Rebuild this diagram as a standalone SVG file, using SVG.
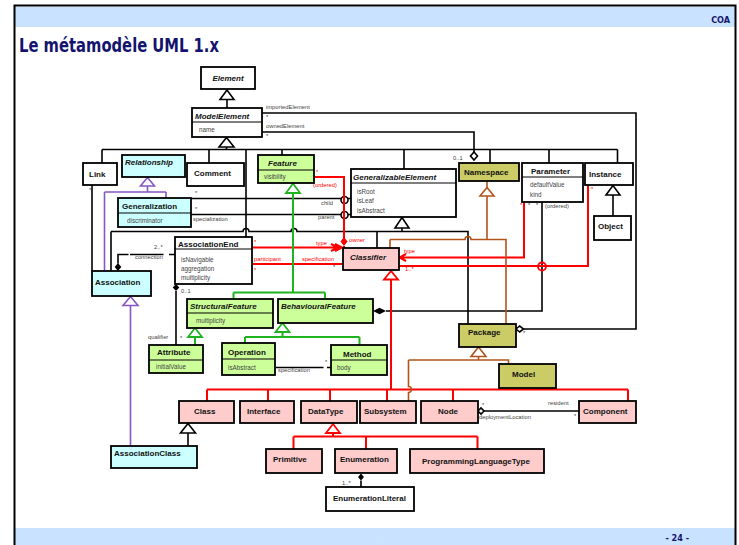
<svg xmlns="http://www.w3.org/2000/svg" width="739" height="545" viewBox="0 0 739 545">
<style>
  .bx{stroke:#000;stroke-width:1.8}
  .w{fill:#fff}.cy{fill:#ccffff}.gr{fill:#ccff99}.pk{fill:#ffcccc}.ol{fill:#cccc66}
  .dv{stroke:#000;stroke-width:1.2}
  text{font-family:"Liberation Sans",Arial,sans-serif}
  .n{font-size:8px;font-weight:bold;fill:#111}
  .ni{font-size:8px;font-weight:bold;font-style:italic;fill:#111}
  .at{font-size:6.3px;fill:#444}
  .lb{font-size:5.8px;fill:#444}
  .lr{font-size:5.8px;fill:#f00}
  .k{stroke:#000;stroke-width:1.6;fill:none}
  .r{stroke:#f00;stroke-width:2;fill:none}
  .g{stroke:#1fb31f;stroke-width:2;fill:none}
  .p{stroke:#8556c4;stroke-width:1.6;fill:none}
  .b{stroke:#b3531c;stroke-width:1.6;fill:none}
  .tk{fill:#fff;stroke:#000;stroke-width:1.6}
  .tr{fill:#fff;stroke:#f00;stroke-width:1.8}
  .tg{fill:#fff;stroke:#1fb31f;stroke-width:1.8}
  .tp{fill:#fff;stroke:#8556c4;stroke-width:1.6}
  .tb{fill:#fff;stroke:#b3531c;stroke-width:1.6}
  .hd{fill:#c9e2ff}
  .nav{font-family:"DejaVu Sans Condensed","DejaVu Sans",sans-serif;font-weight:bold;fill:#14146e}
</style>

<!-- page frame, header and footer bands -->
<g id="page">
  <rect class="hd" x="15" y="7" width="720" height="20"/>
  <rect class="hd" x="15" y="528" width="720" height="17"/>
  <path d="M14.5 545V5.5H735.5V545" fill="none" stroke="#000" stroke-width="2"/>
  <text class="nav" x="730" y="23" font-size="9" text-anchor="end">COA</text>
  <text class="nav" x="19" y="52" font-size="20" textLength="200" lengthAdjust="spacingAndGlyphs">Le métamodèle UML 1.x</text>
  <text class="nav" x="689" y="541" font-size="9" text-anchor="end">- 24 -</text>
  <text x="376" y="541" font-size="4" fill="#fff">.</text>
</g>

<!-- connectors -->
<g id="connectors">
  <!-- ModelElement specialisations -->
  <path class="k" d="M227 99.5V108"/>
  <path class="k" d="M226.5 147V149.5M102 149.5H617.5M102 149.5V163M209 149.5V163M246 149.5V237M282 149.5V155M404 149.5V169M490 149.5V163M549 149.5V163M617.5 149.5V163"/>
  <polygon class="tk" points="227,90 220,99.5 234,99.5"/>
  <polygon class="tk" points="226.5,137.5 219,147 234,147"/>
  <!-- importedElement / ownedElement -->
  <path class="k" d="M262 113H636V329H523.5"/>
  <polygon class="tk" points="516,329 519.7,326 523.5,329 519.7,332"/>
  <path class="k" d="M262 132H474V152"/>
  <polygon class="tk" points="474,152 477.5,156 474,160 470.5,156"/>
  <!-- GeneralizableElement specialisations -->
  <path class="k" d="M402 228V231.5M111 231.5H243A3 3 0 0 1 249 231.5H291A3 3 0 0 1 297 231.5H468V324M111 231.5V271M377 231.5V248"/>
  <polygon class="tk" points="402,217.5 395,228 409,228"/>
  <!-- child / parent -->
  <path class="k" d="M191 198.5H351M191 214.5H351"/>
  <circle class="tk" cx="344.5" cy="200" r="3.5"/>
  <circle class="tk" cx="344.5" cy="215" r="3.5"/>
  <!-- Link / Association -->
  <path class="k" d="M92 185V271"/>
  <path class="k" d="M175 254.5H169M163.5 254.5H130M128.5 254.5H118V263.5"/>
  <polygon points="118,263 121.3,267 118,271 114.7,267" fill="#000"/>
  <!-- qualifier -->
  <polygon points="176,284 179.3,287.5 176,291 172.7,287.5" fill="#000"/>
  <path class="k" d="M176 291V345"/>
  <!-- Class -> AssociationClass -->
  <polygon class="tk" points="188,423.5 180.5,433 195.5,433"/>
  <path class="k" d="M188 433V446"/>
  <!-- Instance -> Object -->
  <polygon class="tk" points="613,185.5 606,195 620,195"/>
  <path class="k" d="M613 195V216"/>
  <!-- BehaviouralFeature - Parameter -->
  <polygon points="373,311 379.5,307.7 386,311 379.5,314.3" fill="#000"/>
  <path class="k" d="M386 311H542V202"/>
  <!-- Node - Component -->
  <polygon class="tk" points="478,411 481,408 484,411 481,414"/>
  <path class="k" d="M484 411H579"/>
  <!-- Enumeration - EnumerationLiteral -->
  <polygon points="361,473.5 364,477 361,480.5 358,477" fill="#000"/>
  <path class="k" d="M361 480.5V487"/>
  <!-- Operation - Method -->
  <path class="k" d="M276 367.5H323.5M327 367.5H331"/>

  <!-- Classifier associations and specialisations -->
  <path class="r" d="M314 177H344V238"/>
  <polygon points="344,237 347.5,241.5 344,246 340.5,241.5" fill="#f00"/>
  <path class="r" d="M344 246V248"/>
  <path class="r" d="M252 247.5H342M335 244L342 247.5L335 251M331 244L338 247.5L331 251"/>
  <path class="r" d="M252 264H343"/>
  <path class="r" d="M399 257.5H524V202M406 254L399.5 257.5L406 261"/>
  <path class="r" d="M399 266H588V185"/>
  <circle cx="542" cy="266.5" r="4" fill="none" stroke="#f00" stroke-width="1.8"/>
  <path class="r" d="M391 279.5V389.5M207 389.5H628M207 389.5V401M268 389.5V401M330 389.5V401M387 389.5V401M453 389.5V401M628 389.5V401"/>
  <polygon class="tr" points="391,271 384,279.5 398,279.5"/>
  <path class="r" d="M333 433V436.5M293.5 436.5H477.5M293.5 436.5V449M366 436.5V449M477.5 436.5V449"/>
  <polygon class="tr" points="333,424 326,433 340,433"/>

  <!-- Feature hierarchy -->
  <path class="g" d="M293 193V292.5M233.5 292.5H325M233.5 292.5V299M325 292.5V299"/>
  <polygon class="tg" points="293,183.5 286,193 300,193"/>
  <path class="g" d="M195 337V345"/>
  <polygon class="tg" points="195,328 188,337 202,337"/>
  <path class="g" d="M282.5 332V337M245 337H359.5M245 337V343M359.5 337V345"/>
  <polygon class="tg" points="282.5,323 275.5,332 289.5,332"/>

  <!-- Relationship hierarchy -->
  <path class="p" d="M147.5 186V192M104.5 192H166M166 192V198M104.5 192V271"/>
  <polygon class="tp" points="147.5,177.5 140.5,186 154.5,186"/>
  <path class="p" d="M130.5 305.5V446"/>
  <polygon class="tp" points="130.5,296.5 123,305.5 138,305.5"/>

  <!-- Namespace hierarchy -->
  <path class="b" d="M487 181V187.5M487 196V239.5M390 239.5H465A3 3 0 0 1 471 239.5H506V324M390 239.5V248"/>
  <polygon class="tb" points="487,187.5 480,196 494,196"/>
  <path class="b" d="M478.5 356.5V360M408.5 360H508.5V364M408.5 360V386.5A3 3 0 0 1 408.5 392.5V401"/>
  <polygon class="tb" points="478.5,347 471,356.5 486,356.5"/>

  <!-- role names and multiplicities -->
  <text class="lb" x="266" y="109">importedElement</text>
  <text class="lb" x="266" y="119">*</text>
  <text class="lb" x="266" y="128">ownedElement</text>
  <text class="lb" x="266" y="138">*</text>
  <text class="lb" x="453" y="160">0..1</text>
  <text class="lb" x="195" y="195">*</text>
  <text class="lb" x="195" y="211">*</text>
  <text class="lb" x="193" y="221">specialization</text>
  <text class="lb" x="321" y="205">child</text>
  <text class="lb" x="318" y="219">parent</text>
  <text class="lr" x="316" y="174">*</text>
  <text class="lr" x="313" y="187">(ordered)</text>
  <text class="lr" x="349" y="242">owner</text>
  <text class="lr" x="316" y="245">type</text>
  <text class="lr" x="254" y="244">*</text>
  <text class="lr" x="254" y="261">participant</text>
  <text class="lr" x="302" y="261">specification</text>
  <text class="lr" x="254" y="272">*</text>
  <text class="lb" x="333" y="269">*</text>
  <text class="lr" x="404" y="253">type</text>
  <text class="lr" x="405" y="271">1..*</text>
  <text class="lr" x="520" y="207">*</text>
  <text class="lb" x="528" y="207">*</text>
  <text class="lb" x="536" y="207">*</text>
  <text class="lb" x="545" y="208">(ordered)</text>
  <text class="lr" x="591" y="191">*</text>
  <text class="lb" x="89" y="192">*</text>
  <text class="lb" x="154" y="249">2..*</text>
  <text class="lb" x="135" y="259">connection</text>
  <text class="lb" x="181" y="293">0..1</text>
  <text class="lb" x="148" y="339">qualifier</text>
  <text class="lb" x="180" y="340">*</text>
  <text class="lb" x="278" y="372">specification</text>
  <text class="lb" x="325" y="364">*</text>
  <text class="lb" x="523" y="335">*</text>
  <text class="lb" x="482" y="407">*</text>
  <text class="lb" x="479" y="419">deploymentLocation</text>
  <text class="lb" x="548" y="405">resident</text>
  <text class="lb" x="574" y="418">*</text>
  <text class="lb" x="342" y="485">1..*</text>
</g>

<!-- classes -->
<g id="Element"><rect class="bx w" x="201" y="67" width="54" height="22"/><text class="ni" x="228" y="81" text-anchor="middle">Element</text></g>
<g id="ModelElement"><rect class="bx w" x="192" y="108" width="70" height="29"/><path class="dv" d="M192 122H262"/><text class="ni" x="195" y="119">ModelElement</text><text class="at" x="199" y="132">name</text></g>
<g id="Link"><rect class="bx w" x="83" y="163" width="34" height="22"/><text class="n" x="89" y="177">Link</text></g>
<g id="Relationship"><rect class="bx cy" x="122" y="155" width="63" height="22"/><text class="ni" x="125" y="165">Relationship</text></g>
<g id="Comment"><rect class="bx w" x="187" y="163" width="57" height="23"/><text class="n" x="194" y="176">Comment</text></g>
<g id="Feature"><rect class="bx gr" x="258" y="155" width="56" height="28"/><path class="dv" d="M258 170H314"/><text class="ni" x="268" y="166">Feature</text><text class="at" x="264" y="179">visibility</text></g>
<g id="GeneralizableElement"><rect class="bx w" x="351" y="169" width="105" height="48"/><path class="dv" d="M351 183H456"/><text class="ni" x="353" y="180">GeneralizableElement</text><text class="at" x="357" y="194">isRoot</text><text class="at" x="357" y="203">isLeaf</text><text class="at" x="357" y="213">isAbstract</text></g>
<g id="Namespace"><rect class="bx ol" x="459" y="163" width="60" height="18"/><text class="n" x="464" y="175">Namespace</text></g>
<g id="Parameter"><rect class="bx w" x="522" y="163" width="61" height="39"/><path class="dv" d="M522 177H583"/><text class="n" x="531" y="174">Parameter</text><text class="at" x="530" y="187">defaultValue</text><text class="at" x="530" y="197">kind</text></g>
<g id="Instance"><rect class="bx w" x="585" y="163" width="48" height="22"/><text class="n" x="589" y="177">Instance</text></g>
<g id="Object"><rect class="bx w" x="594" y="216" width="37" height="24"/><text class="n" x="598" y="229">Object</text></g>
<g id="Generalization"><rect class="bx cy" x="118" y="198" width="73" height="29"/><path class="dv" d="M118 213H191"/><text class="n" x="122" y="209">Generalization</text><text class="at" x="127" y="223">discriminator</text></g>
<g id="AssociationEnd"><rect class="bx w" x="175" y="237" width="77" height="47"/><path class="dv" d="M175 249H252"/><text class="n" x="178" y="247">AssociationEnd</text><text class="at" x="181" y="262">isNavigable</text><text class="at" x="181" y="271">aggregation</text><text class="at" x="181" y="280">multiplicity</text></g>
<g id="Classifier"><rect class="bx pk" x="343" y="248" width="56" height="22"/><text class="ni" x="350" y="260">Classifier</text></g>
<g id="Association"><rect class="bx cy" x="92" y="271" width="59" height="25"/><text class="n" x="95" y="285">Association</text></g>
<g id="StructuralFeature"><rect class="bx gr" x="187" y="299" width="86" height="29"/><path class="dv" d="M187 313H273"/><text class="ni" x="190" y="309">StructuralFeature</text><text class="at" x="196" y="323">multiplicity</text></g>
<g id="BehaviouralFeature"><rect class="bx gr" x="278" y="299" width="95" height="24"/><text class="ni" x="281" y="309">BehaviouralFeature</text></g>
<g id="Attribute"><rect class="bx gr" x="149" y="345" width="54" height="28"/><path class="dv" d="M149 360H203"/><text class="n" x="157" y="355">Attribute</text><text class="at" x="156" y="369">initialValue</text></g>
<g id="Operation"><rect class="bx gr" x="222" y="343" width="53" height="32"/><path class="dv" d="M222 359H275"/><text class="n" x="228" y="355">Operation</text><text class="at" x="228" y="370">isAbstract</text></g>
<g id="Method"><rect class="bx gr" x="331" y="345" width="56" height="30"/><path class="dv" d="M331 360H387"/><text class="n" x="343" y="357">Method</text><text class="at" x="337" y="370">body</text></g>
<g id="Package"><rect class="bx ol" x="459" y="324" width="57" height="23"/><text class="n" x="468" y="335">Package</text></g>
<g id="Model"><rect class="bx ol" x="499" y="364" width="57" height="24"/><text class="n" x="512" y="377">Model</text></g>
<g id="Class"><rect class="bx pk" x="179" y="401" width="55" height="22"/><text class="n" x="194" y="414">Class</text></g>
<g id="Interface"><rect class="bx pk" x="240" y="401" width="54" height="22"/><text class="n" x="247" y="414">Interface</text></g>
<g id="DataType"><rect class="bx pk" x="301" y="401" width="56" height="22"/><text class="n" x="308" y="414">DataType</text></g>
<g id="Subsystem"><rect class="bx pk" x="360" y="401" width="56" height="22"/><text class="n" x="364" y="414">Subsystem</text></g>
<g id="Node"><rect class="bx pk" x="421" y="401" width="57" height="22"/><text class="n" x="438" y="414">Node</text></g>
<g id="Component"><rect class="bx pk" x="579" y="401" width="57" height="22"/><text class="n" x="583" y="414">Component</text></g>
<g id="AssociationClass"><rect class="bx cy" x="111" y="446" width="86" height="22"/><text class="n" x="114" y="456">AssociationClass</text></g>
<g id="Primitive"><rect class="bx pk" x="266" y="449" width="56" height="24"/><text class="n" x="273" y="462">Primitive</text></g>
<g id="Enumeration"><rect class="bx pk" x="335" y="449" width="62" height="24"/><text class="n" x="340" y="462">Enumeration</text></g>
<g id="ProgrammingLanguageType"><rect class="bx pk" x="410" y="449" width="134" height="24"/><text class="n" x="422" y="464">ProgrammingLanguageType</text></g>
<g id="EnumerationLiteral"><rect class="bx w" x="326" y="487" width="88" height="24"/><text class="n" x="333" y="501">EnumerationLiteral</text></g>
</svg>
